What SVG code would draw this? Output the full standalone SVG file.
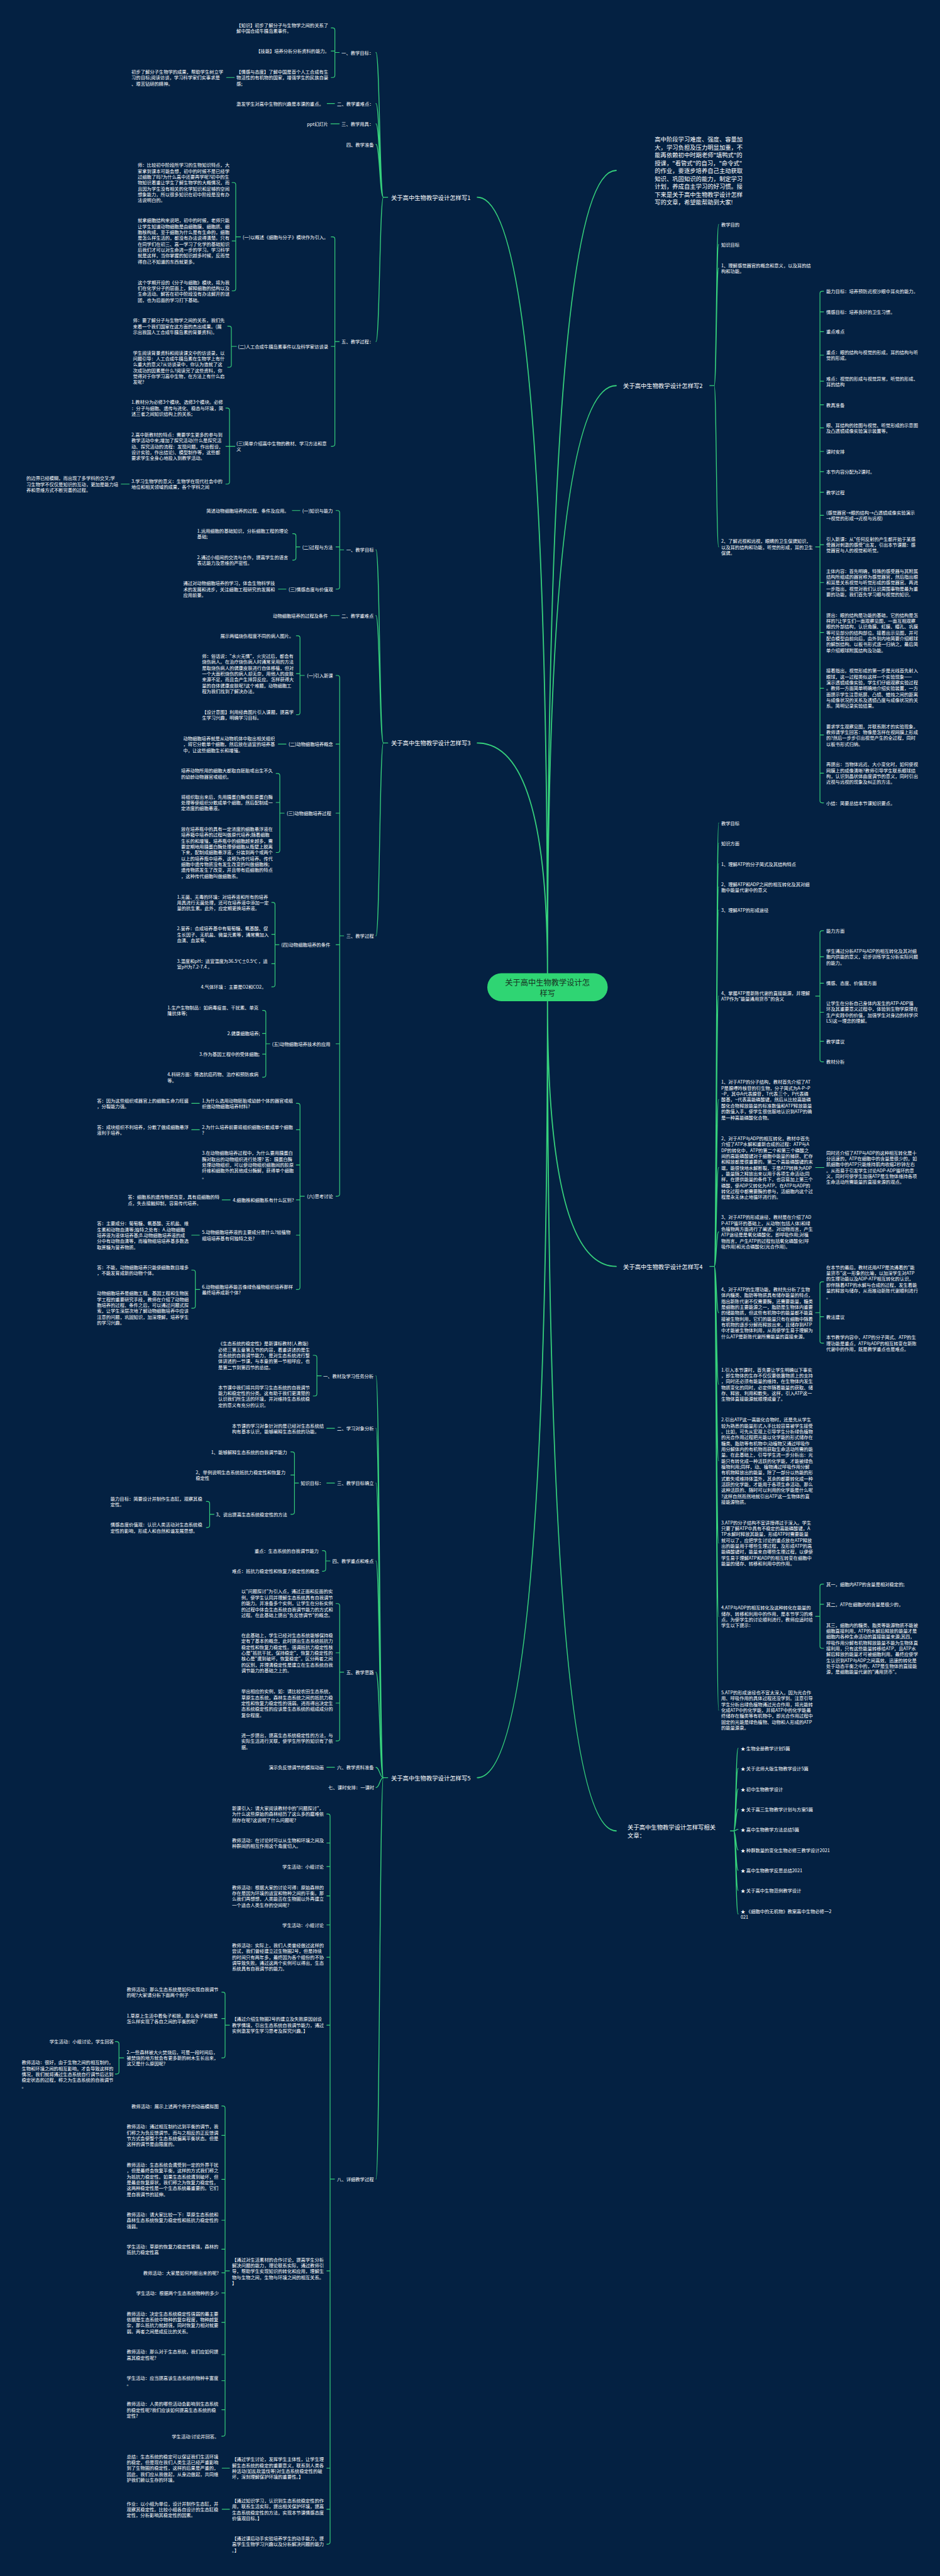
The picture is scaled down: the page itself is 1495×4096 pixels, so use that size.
<svg xmlns="http://www.w3.org/2000/svg" width="1495" height="4096" viewBox="0 0 1495 4096">
<style>
.t{font-family:"Noto Sans CJK SC","Microsoft YaHei",sans-serif;font-size:12.5px;fill:#ffffff;dominant-baseline:central}
.b{font-size:16px}
.c{font-family:"Noto Sans CJK SC","Microsoft YaHei",sans-serif;font-size:21px;fill:#163222;text-anchor:middle;dominant-baseline:central}
.l{fill:none;stroke:#36d17c;stroke-width:2;stroke-linecap:round;stroke-linejoin:round}
.m{stroke-width:2.3}
.top{stroke-width:3.2}
</style>
<rect x="0" y="0" width="1495" height="4096" fill="#042142"/>
<g transform="scale(0.584)">
<g id="connectors">
<path class="l top" d="M1491 2650Q1491 537 1300 537M1491 2650Q1491 2023 1300 2023M1491 2726Q1491 4840 1300 4840M1491 2650Q1491 464 1678 464M1491 2650Q1491 1050 1678 1050M1491 2726Q1491 3448 1678 3448M1491 2726Q1491 4985 1678 4985"/>
<path class="l m" d="M1056 537H1044M1044 537C1034 537 1034 143 1024 143M1044 537C1034 537 1034 282 1024 282M1044 537C1034 537 1034 337 1024 337M1044 537C1034 537 1034 393 1024 393M1044 537C1034 537 1034 930 1024 930"/>
<path class="l m" d="M1056 2023H1044M1044 2023C1034 2023 1034 1497 1024 1497M1044 2023C1034 2023 1034 1676 1024 1676M1044 2023C1034 2023 1034 2548 1024 2548"/>
<path class="l m" d="M1056 4840H1044M1044 4840C1034 4840 1034 3746 1024 3746M1044 4840C1034 4840 1034 3889 1024 3889M1044 4840C1034 4840 1034 4038 1024 4038M1044 4840C1034 4840 1034 4250 1024 4250M1044 4840C1034 4840 1034 4553 1024 4553M1044 4840C1034 4840 1034 4812 1024 4812M1044 4840C1034 4840 1034 4867 1024 4867M1044 4840C1034 4840 1034 5933 1024 5933"/>
<path class="l m" d="M1933 1050H1945M1945 1050C1951 1050 1951 611 1957 611M1945 1050C1951 1050 1951 666 1957 666M1945 1050C1951 1050 1951 730 1957 730M1945 1050C1951 1050 1951 1489 1957 1489"/>
<path class="l m" d="M1933 3448H1945M1945 3448C1951 3448 1951 2241 1957 2241M1945 3448C1951 3448 1951 2296 1957 2296M1945 3448C1951 3448 1951 2352 1957 2352M1945 3448C1951 3448 1951 2415 1957 2415M1945 3448C1951 3448 1951 2478 1957 2478M1945 3448C1951 3448 1951 2712 1957 2712M1945 3448C1951 3448 1951 2994 1957 2994M1945 3448C1951 3448 1951 3179 1957 3179M1945 3448C1951 3448 1951 3354 1957 3354M1945 3448C1951 3448 1951 3574 1957 3574M1945 3448C1951 3448 1951 3769 1957 3769M1945 3448C1951 3448 1951 3977 1957 3977M1945 3448C1951 3448 1951 4201 1957 4201M1945 3448C1951 3448 1951 4401 1957 4401M1945 3448C1951 3448 1951 4656 1957 4656"/>
<path class="l m" d="M1989 4985H1998M1998 4985C2004 4985 2004 4760 2010 4760M1998 4985C2004 4985 2004 4815 2010 4815M1998 4985C2004 4985 2004 4871 2010 4871M1998 4985C2004 4985 2004 4926 2010 4926M1998 4985C2004 4985 2004 4981 2010 4981M1998 4985C2004 4985 2004 5037 2010 5037M1998 4985C2004 4985 2004 5092 2010 5092M1998 4985C2004 4985 2004 5147 2010 5147M1998 4985C2004 4985 2004 5211 2010 5211"/>
<path class="l" d="M924 143H912M902 76H906Q912 76 912 82V205Q912 211 906 211H902M912 139H902"/>
<path class="l" d="M638 211H617M911 282H891M924 337H901M352 1318H330"/>
<path class="l" d="M924 930H912M902 645H906Q912 645 912 651V1209Q912 1215 906 1215H902M912 943H902"/>
<path class="l" d="M655 645H642M632 497H636Q642 497 642 503V786Q642 792 636 792H632M642 656H632"/>
<path class="l" d="M644 943H630M620 888H624Q630 888 630 894V994Q630 1000 624 1000H620"/>
<path class="l" d="M640 1215H625M615 1111H619Q625 1111 625 1117V1312Q625 1318 619 1318H615M625 1215H615"/>
<path class="l" d="M936 1497H925M915 1390H919Q925 1390 925 1396V1598Q925 1604 919 1604H915M925 1489H915"/>
<path class="l" d="M817 1390H796M779 1604H758M924 1676H901M779 2026H758"/>
<path class="l" d="M817 1489H806M797 1453H800Q806 1453 806 1459V1519Q806 1525 800 1525H797"/>
<path class="l" d="M936 2548H925M915 1839H919Q925 1839 925 1845V3251Q925 3257 919 3257H915M925 2026H915M925 2214H915M925 2572H915M925 2842H915"/>
<path class="l" d="M829 1839H817M807 1731H811Q817 1731 817 1737V1940Q817 1946 811 1946H807M817 1834H807"/>
<path class="l" d="M774 2214H762M752 2106H756Q762 2106 762 2112V2315Q762 2321 756 2321H752M762 2185H752"/>
<path class="l" d="M760 2572H749M740 2457H743Q749 2457 749 2463V2681Q749 2687 743 2687H740M749 2544H740M749 2624H740"/>
<path class="l" d="M735 2842H724M715 2751H718Q724 2751 724 2757V2927Q724 2933 718 2933H715M724 2814H715M724 2870H715"/>
<path class="l" d="M829 3257H817M807 3004H811Q817 3004 817 3010V3505Q817 3511 811 3511H807M817 3076H807M817 3172H807M817 3267H807M817 3363H807"/>
<path class="l" d="M543 3004H522M543 3076H522M627 3267H605M543 3363H522"/>
<path class="l" d="M544 3511H532M522 3458H526Q532 3458 532 3464V3556Q532 3562 526 3562H522"/>
<path class="l" d="M875 3746H863M853 3690H857Q863 3690 863 3696V3795Q863 3801 857 3801H853"/>
<path class="l" d="M911 3889H890M911 4038H890M911 4812H890"/>
<path class="l" d="M813 4038H802M792 3953H796Q802 3953 802 3959V4117Q802 4123 796 4123H792M802 4016H792"/>
<path class="l" d="M583 4123H571M562 4088H565Q571 4088 571 4094V4153Q571 4159 565 4159H562"/>
<path class="l" d="M899 4250H887M878 4222H881Q887 4222 887 4228V4272Q887 4278 881 4278H878"/>
<path class="l" d="M936 4553H925M915 4366H919Q925 4366 925 4372V4734Q925 4740 919 4740H915M925 4500H915M925 4637H915"/>
<path class="l" d="M911 5933H899M890 4939H893Q899 4939 899 4945V6921Q899 6927 893 6927H890M899 5018H890M899 5082H890M899 5162H890M899 5241H890M899 5329H890M899 5514H890M899 6183H890M899 6720H890M899 6832H890"/>
<path class="l" d="M625 5514H613M604 5424H607Q613 5424 613 5430V5597Q613 5603 607 5603H604M613 5496H604"/>
<path class="l" d="M337 5603H324M314 5559H318Q324 5559 324 5565V5641Q324 5647 318 5647H314"/>
<path class="l" d="M625 6183H613M604 5734H607Q613 5734 613 5740V6627Q613 6633 607 6633H604M613 5814H604M613 5934H604M613 6045H604M613 6124H604M613 6188H604M613 6243H604M613 6323H604M613 6411H604M613 6482H604M613 6561H604"/>
<path class="l" d="M625 6720H605M625 6832H605"/>
<path class="l" d="M2221 1489H2233M2243 793H2239Q2233 793 2233 799V2180Q2233 2186 2239 2186H2243M2233 849H2243M2233 903H2243M2233 967H2243M2233 1038H2243M2233 1102H2243M2233 1165H2243M2233 1229H2243M2233 1284H2243M2233 1340H2243M2233 1403H2243M2233 1483H2243M2233 1586H2243M2233 1722H2243M2233 1874H2243M2233 2001H2243M2233 2105H2243"/>
<path class="l" d="M2221 2712H2233M2243 2534H2239Q2233 2534 2233 2540V2885Q2233 2891 2239 2891H2243M2233 2605H2243M2233 2677H2243M2233 2756H2243M2233 2835H2243"/>
<path class="l" d="M2221 3179H2244"/>
<path class="l" d="M2221 3574H2233M2243 3490H2239Q2233 3490 2233 3496V3651Q2233 3657 2239 3657H2243M2233 3585H2243"/>
<path class="l" d="M2221 4401H2233M2243 4313H2239Q2233 4313 2233 4319V4482Q2233 4488 2239 4488H2243M2233 4368H2243"/>
</g>
<g id="root"><rect x="1327" y="2650" width="328" height="76" rx="38" fill="#2fd573"/><text class="c" x="1491" y="2675"><tspan>关于高中生物教学设计怎</tspan><tspan x="1491" dy="28">样写</tspan></text></g>
<g id="intro"><text class="t b" x="1783" y="379"><tspan>高中阶段学习难度、强度、容量加</tspan><tspan x="1783" dy="21.4">大，学习负担及压力明显加重，不</tspan><tspan x="1783" dy="21.4">能再依赖初中时期老师"填鸭式"的</tspan><tspan x="1783" dy="21.4">授课，"看管式"的自习，"命令式"</tspan><tspan x="1783" dy="21.4">的作业，要逐步培养自己主动获取</tspan><tspan x="1783" dy="21.4">知识、巩固知识的能力，制定学习</tspan><tspan x="1783" dy="21.4">计划，养成自主学习的好习惯。接</tspan><tspan x="1783" dy="21.4">下来是关于高中生物教学设计怎样</tspan><tspan x="1783" dy="21.4">写的文章，希望能帮助到大家!</tspan></text></g>
<g id="b1"><text class="t b" x="1065" y="537">关于高中生物教学设计怎样写1</text></g>
<g id="b3"><text class="t b" x="1065" y="2023">关于高中生物教学设计怎样写3</text></g>
<g id="b5"><text class="t b" x="1065" y="4840">关于高中生物教学设计怎样写5</text></g>
<g id="b2"><text class="t b" x="1697" y="1050">关于高中生物教学设计怎样写2</text></g>
<g id="b4"><text class="t b" x="1697" y="3448">关于高中生物教学设计怎样写4</text></g>
<g id="b6"><text class="t b" x="1709" y="4975"><tspan>关于高中生物教学设计怎样写相关</tspan><tspan x="1709" dy="21">文章：</tspan></text></g>
<g id="n1"><text class="t" x="930" y="143">一、教学目标：</text></g>
<g id="n2"><text class="t" x="644" y="68"><tspan>【知识】初步了解分子与生物学之间的关系了</tspan><tspan x="644" dy="16">解中国合成牛胰岛素事件。</tspan></text></g>
<g id="n3"><text class="t" x="697" y="139">【技能】培养分析分析资料的能力。</text></g>
<g id="n4"><text class="t" x="644" y="195"><tspan>【情感与态度】了解中国是首个人工合成有生</tspan><tspan x="644" dy="16">物活性的有机物的国家，增强学生的民族自豪</tspan><tspan x="644" dy="16">感;</tspan></text></g>
<g id="n5"><text class="t" x="358" y="195"><tspan>初步了解分子生物学的成果，帮助学生树立学</tspan><tspan x="358" dy="16">习的目标;阅读访谈，学习科学家们实事求是</tspan><tspan x="358" dy="16">、艰苦钻研的精神。</tspan></text></g>
<g id="n6"><text class="t" x="918" y="282">二、教学重难点：</text></g>
<g id="n7"><text class="t" x="644" y="282">激发学生对高中生物的兴趣是本课的重点。</text></g>
<g id="n8"><text class="t" x="930" y="337">三、教学用具：</text></g>
<g id="n9"><text class="t" x="836" y="337">ppt幻灯片</text></g>
<g id="n10"><text class="t" x="943" y="393">四、教学准备</text></g>
<g id="n11"><text class="t" x="930" y="930">五、教学过程：</text></g>
<g id="n12"><text class="t" x="661" y="645">(一)以概述《细胞与分子》模块作为引入。</text></g>
<g id="n13"><text class="t" x="375" y="449"><tspan>师：比较初中阶段所学习的生物知识特点，大</tspan><tspan x="375" dy="16">家拿到课本可能会想，初中的时候不是已经学</tspan><tspan x="375" dy="16">过细胞了吗?为什么高中还要再学呢?初中的生</tspan><tspan x="375" dy="16">物知识着重让学生了解生物学的大概情况，而</tspan><tspan x="375" dy="16">且因为学生没有相关的化学知识和足够的空间</tspan><tspan x="375" dy="16">想象能力，所以很多知识在初中阶段是没有办</tspan><tspan x="375" dy="16">法说明白的。</tspan></text></g>
<g id="n14"><text class="t" x="375" y="600"><tspan>就拿细胞结构来说吧，初中的时候，老师只能</tspan><tspan x="375" dy="16">让学生知道动物细胞是由细胞膜、细胞质、细</tspan><tspan x="375" dy="16">胞核构成，至于细胞为什么是有生命的，细胞</tspan><tspan x="375" dy="16">是怎么样生活的，都没有办法说得清楚。只有</tspan><tspan x="375" dy="16">在同学们在初三、高一学习了化学的基础知识</tspan><tspan x="375" dy="16">后我们才可以对生命进一步的学习。学习科学</tspan><tspan x="375" dy="16">就是这样，当你掌握的知识越多时候，反而觉</tspan><tspan x="375" dy="16">得自己不知道的东西就更多。</tspan></text></g>
<g id="n15"><text class="t" x="375" y="768"><tspan>这个学期开设的《分子与细胞》模块，将为我</tspan><tspan x="375" dy="16">们在化学分子的层面上，解释细胞的结构以及</tspan><tspan x="375" dy="16">生命活动。解答在初中阶段没有办法解开的谜</tspan><tspan x="375" dy="16">团，也为后面的学习打下基础。</tspan></text></g>
<g id="n16"><text class="t" x="648" y="943">(二)人工合成牛胰岛素事件以及科学家访谈录</text></g>
<g id="n17"><text class="t" x="362" y="872"><tspan>师：要了解分子与生物学之间的关系，我们先</tspan><tspan x="362" dy="16">来看一个我们国家在这方面的杰出成果。(展</tspan><tspan x="362" dy="16">示出我国人工合成牛胰岛素的背景资料)。</tspan></text></g>
<g id="n18"><text class="t" x="362" y="960"><tspan>学生阅读背景资料和阅读课文中的访谈录，以</tspan><tspan x="362" dy="16">问题引导：人工合成牛胰岛素在生物学上有什</tspan><tspan x="362" dy="16">么重大的意义?从访谈录中，你认为造就了这</tspan><tspan x="362" dy="16">次成功的因素是什么?阅读完了这些资料，你</tspan><tspan x="362" dy="16">觉得对于你学习高中生物，在方法上有什么启</tspan><tspan x="362" dy="16">发呢?</tspan></text></g>
<g id="n19"><text class="t" x="644" y="1207"><tspan>(三)简单介绍高中生物的教材、学习方法和意</tspan><tspan x="644" dy="16">义</tspan></text></g>
<g id="n20"><text class="t" x="358" y="1095"><tspan>1.教材分为必修3个模块、选修3个模块。必修</tspan><tspan x="358" dy="16">：分子与细胞、遗传与进化、稳态与环境，简</tspan><tspan x="358" dy="16">述三者之间知识结构上的关系;</tspan></text></g>
<g id="n21"><text class="t" x="358" y="1183"><tspan>2.高中新教材的特点：需要学生更多的参与到</tspan><tspan x="358" dy="16">教学活动中来;增加了探究活动(什么是探究活</tspan><tspan x="358" dy="16">动、探究活动的流程：发现问题，作出假设，</tspan><tspan x="358" dy="16">设计实验，作出结论)、模型制作等，这些都</tspan><tspan x="358" dy="16">要求学生全身心地投入到教学活动。</tspan></text></g>
<g id="n22"><text class="t" x="358" y="1310"><tspan>3.学习生物学的意义：生物学在现代社会中的</tspan><tspan x="358" dy="16">地位和相关领域的成果，各个学科之间</tspan></text></g>
<g id="n23"><text class="t" x="72" y="1302"><tspan>的边界已经模糊，而出现了多学科的交叉;学</tspan><tspan x="72" dy="16">习生物学不仅仅是知识的互动，更加是能力培</tspan><tspan x="72" dy="16">养和思维方式不断完善的过程。</tspan></text></g>
<g id="n24"><text class="t" x="943" y="1497">一、教学目标</text></g>
<g id="n25"><text class="t" x="823" y="1390">(一)知识与能力</text></g>
<g id="n26"><text class="t" x="562" y="1390">简述动物细胞培养的过程、条件及应用。</text></g>
<g id="n27"><text class="t" x="823" y="1489">(二)过程与方法</text></g>
<g id="n28"><text class="t" x="537" y="1445"><tspan>1.运用细胞的基础知识，分析细胞工程的理论</tspan><tspan x="537" dy="16">基础;</tspan></text></g>
<g id="n29"><text class="t" x="537" y="1517"><tspan>2.通过小组间的交流与合作，提高学生的语言</tspan><tspan x="537" dy="16">表达能力及思维的严密性。</tspan></text></g>
<g id="n30"><text class="t" x="786" y="1604">(三)情感态度与价值观</text></g>
<g id="n31"><text class="t" x="499" y="1588"><tspan>通过对动物细胞培养的学习，体会生物科学技</tspan><tspan x="499" dy="16">术的发展和进步，关注细胞工程研究的发展和</tspan><tspan x="499" dy="16">应用前景。</tspan></text></g>
<g id="n32"><text class="t" x="930" y="1676">二、教学重难点</text></g>
<g id="n33"><text class="t" x="743" y="1676">动物细胞培养的过程及条件</text></g>
<g id="n34"><text class="t" x="943" y="2548">三、教学过程</text></g>
<g id="n35"><text class="t" x="836" y="1839">(一)引入新课</text></g>
<g id="n36"><text class="t" x="600" y="1731">展示两幅烧伤程度不同的病人图片。</text></g>
<g id="n37"><text class="t" x="550" y="1786"><tspan>师：俗话说："水火无情"，火灾过后，都会有</tspan><tspan x="550" dy="16">烧伤病人。在治疗烧伤病人时通常采用的方法</tspan><tspan x="550" dy="16">是取烧伤病人的健康皮肤进行自体移植，但对</tspan><tspan x="550" dy="16">一个大面积烧伤的病人却无奈，用他人的皮肤</tspan><tspan x="550" dy="16">来源不足，而且会产生排异反应。怎样获得大</tspan><tspan x="550" dy="16">量的自体健康皮肤呢?这个难题，动物细胞工</tspan><tspan x="550" dy="16">程为我们找到了解决办法。</tspan></text></g>
<g id="n38"><text class="t" x="550" y="1938"><tspan>【设计意图】利用经典图片引入课题，提高学</tspan><tspan x="550" dy="16">生学习兴趣，明确学习目标。</tspan></text></g>
<g id="n39"><text class="t" x="786" y="2026">(二)动物细胞培养概念</text></g>
<g id="n40"><text class="t" x="499" y="2010"><tspan>动物细胞培养就是从动物机体中取出相关组织</tspan><tspan x="499" dy="16">，将它分散单个细胞，然后放在适宜的培养基</tspan><tspan x="499" dy="16">中，让这些细胞生长和增殖。</tspan></text></g>
<g id="n41"><text class="t" x="781" y="2214">(三)动物细胞培养过程</text></g>
<g id="n42"><text class="t" x="493" y="2098"><tspan>培养动物所用的细胞大都取自胚胎或出生不久</tspan><tspan x="493" dy="16">的幼龄动物器官或组织。</tspan></text></g>
<g id="n43"><text class="t" x="493" y="2169"><tspan>将组织取出来后，先用胰蛋白酶或胶原蛋白酶</tspan><tspan x="493" dy="16">处理等使组织分散成单个细胞，然后配制成一</tspan><tspan x="493" dy="16">定浓度的细胞悬液。</tspan></text></g>
<g id="n44"><text class="t" x="493" y="2257"><tspan>放在培养瓶中的具有一定浓度的细胞悬浮液在</tspan><tspan x="493" dy="16">培养箱中培养的过程叫做原代培养;随着细胞</tspan><tspan x="493" dy="16">生长的和增殖，培养瓶中的细胞越来越多，需</tspan><tspan x="493" dy="16">要定期地用胰蛋白酶处理使细胞从瓶壁上脱离</tspan><tspan x="493" dy="16">下来，配制成细胞悬浮液，分装到两个或两个</tspan><tspan x="493" dy="16">以上的培养瓶中培养，这称为传代培养。传代</tspan><tspan x="493" dy="16">细胞中遗传物质没有发生改变的叫做细胞株;</tspan><tspan x="493" dy="16">遗传物质发生了改变，并且带有癌细胞的特点</tspan><tspan x="493" dy="16">，这种传代细胞叫做细胞系。</tspan></text></g>
<g id="n45"><text class="t" x="766" y="2572">(四)动物细胞培养的条件</text></g>
<g id="n46"><text class="t" x="482" y="2441"><tspan>1.无菌、无毒的环境：对培养液和所有的培养</tspan><tspan x="482" dy="16">用具进行无菌处理，还可在培养液中添加一定</tspan><tspan x="482" dy="16">量的抗生素。此外，应定期更换培养液。</tspan></text></g>
<g id="n47"><text class="t" x="482" y="2528"><tspan>2.营养：合成培养基中有葡萄糖、氨基酸、促</tspan><tspan x="482" dy="16">生长因子、无机盐、微量元素等，通常需加入</tspan><tspan x="482" dy="16">血清、血浆等。</tspan></text></g>
<g id="n48"><text class="t" x="482" y="2616"><tspan>3.温度和pH：适宜温度为36.5℃±0.5℃ ，适</tspan><tspan x="482" dy="16">宜pH为7.2-7.4 。</tspan></text></g>
<g id="n49"><text class="t" x="547" y="2687">4.气体环境 ：主要是O2和CO2。</text></g>
<g id="n50"><text class="t" x="741" y="2842">(五)动物细胞培养技术的应用</text></g>
<g id="n51"><text class="t" x="456" y="2743"><tspan>1.生产生物制品：如病毒疫苗、干扰素、单克</tspan><tspan x="456" dy="16">隆抗体等;</tspan></text></g>
<g id="n52"><text class="t" x="619" y="2814">2.健康细胞培养;</text></g>
<g id="n53"><text class="t" x="543" y="2870">3.作为基因工程中的受体细胞;</text></g>
<g id="n54"><text class="t" x="456" y="2925"><tspan>4.科研方面：筛选抗癌药物、治疗和预防疾病</tspan><tspan x="456" dy="16">等。</tspan></text></g>
<g id="n55"><text class="t" x="836" y="3257">(六)思考讨论</text></g>
<g id="n56"><text class="t" x="550" y="2996"><tspan>1.为什么选用动物胚胎或幼龄个体的器官或组</tspan><tspan x="550" dy="16">织做动物细胞培养材料?</tspan></text></g>
<g id="n57"><text class="t" x="264" y="2996"><tspan>答：因为这些组织或器官上的细胞生命力旺盛</tspan><tspan x="264" dy="16">，分裂能力强。</tspan></text></g>
<g id="n58"><text class="t" x="550" y="3068"><tspan>2.为什么培养前要将组织细胞分散成单个细胞</tspan><tspan x="550" dy="16">?</tspan></text></g>
<g id="n59"><text class="t" x="264" y="3068"><tspan>答：成块组织不利培养，分散了做成细胞悬浮</tspan><tspan x="264" dy="16">液利于培养。</tspan></text></g>
<g id="n60"><text class="t" x="550" y="3139"><tspan>3.在动物细胞培养过程中，为什么要用胰蛋白</tspan><tspan x="550" dy="16">酶对取出的动物组织进行处理? 答：胰蛋白酶</tspan><tspan x="550" dy="16">处理动物组织，可以使动物组织细胞间的胶原</tspan><tspan x="550" dy="16">纤维和细胞外的其他成分酶解，获得单个细胞</tspan><tspan x="550" dy="16">。</tspan></text></g>
<g id="n61"><text class="t" x="634" y="3267">4.细胞株和细胞系有什么区别?</text></g>
<g id="n62"><text class="t" x="348" y="3259"><tspan>答：细胞系的遗传物质改变，具有癌细胞的特</tspan><tspan x="348" dy="16">点，失去接触抑制，容易传代培养。</tspan></text></g>
<g id="n63"><text class="t" x="550" y="3355"><tspan>5.动物细胞培养液的主要成分是什么?较植物</tspan><tspan x="550" dy="16">组培培养基有何独特之处?</tspan></text></g>
<g id="n64"><text class="t" x="264" y="3331"><tspan>答：主要成分：葡萄糖、氨基酸、无机盐、维</tspan><tspan x="264" dy="16">生素和动物血清等;独特之处有：A.动物细胞</tspan><tspan x="264" dy="16">培养液为液体培养基;B.动物细胞培养液的成</tspan><tspan x="264" dy="16">分中有动物血清等，而植物组培培养基多数选</tspan><tspan x="264" dy="16">取蔗糖为营养物质。</tspan></text></g>
<g id="n65"><text class="t" x="550" y="3503"><tspan>6.动物细胞培养能否像绿色植物组织培养那样</tspan><tspan x="550" dy="16">最终培养成新个体?</tspan></text></g>
<g id="n66"><text class="t" x="264" y="3450"><tspan>答：不能，动物细胞培养只能使细胞数目增多</tspan><tspan x="264" dy="16">，不能发育成新的动物个体。</tspan></text></g>
<g id="n67"><text class="t" x="264" y="3521"><tspan>动物细胞培养是细胞工程、基因工程和生物医</tspan><tspan x="264" dy="16">学工程的重要研究手段，教师在介绍了动物细</tspan><tspan x="264" dy="16">胞培养的过程、条件之后，可以通过问题式探</tspan><tspan x="264" dy="16">索，让学生深层次地了解动物细胞培养中应该</tspan><tspan x="264" dy="16">注意的问题，巩固知识，加深理解，培养学生</tspan><tspan x="264" dy="16">的学习兴趣。</tspan></text></g>
<g id="n68"><text class="t" x="880" y="3746">一、教材及学习任务分析</text></g>
<g id="n69"><text class="t" x="594" y="3658"><tspan>《生态系统的稳定性》是新课标教材(人教版)</tspan><tspan x="594" dy="16">必修三第五章第五节的内容，着重讲述的是生</tspan><tspan x="594" dy="16">态系统的自我调节能力，是对生态系统进行整</tspan><tspan x="594" dy="16">体讲述的一节课，与本章的第一节相呼应，也</tspan><tspan x="594" dy="16">是第二节到第四节的总结。</tspan></text></g>
<g id="n70"><text class="t" x="594" y="3777"><tspan>本节课中我们将共同学习生态系统的自我调节</tspan><tspan x="594" dy="16">能力和稳定性的分类。这有助于我们更清楚的</tspan><tspan x="594" dy="16">认识我们所生活的环境，并对维持生态系统稳</tspan><tspan x="594" dy="16">定的意义有充分的认识。</tspan></text></g>
<g id="n71"><text class="t" x="918" y="3889">二、学习对象分析</text></g>
<g id="n72"><text class="t" x="632" y="3881"><tspan>本节课的学习对象针对的是已经对生态系统结</tspan><tspan x="632" dy="16">构有基本认识，能够阐释生态系统的功能。</tspan></text></g>
<g id="n73"><text class="t" x="918" y="4038">三、教学目标确立</text></g>
<g id="n74"><text class="t" x="819" y="4038">知识目标：</text></g>
<g id="n75"><text class="t" x="575" y="3953">1、能够解释生态系统的自我调节能力</text></g>
<g id="n76"><text class="t" x="533" y="4008"><tspan>2、举例说明生态系统抵抗力稳定性和恢复力</tspan><tspan x="533" dy="16">稳定性</tspan></text></g>
<g id="n77"><text class="t" x="588" y="4123">3、说出提高生态系统稳定性的方法</text></g>
<g id="n78"><text class="t" x="301" y="4080"><tspan>能力目标：简要设计并制作生态缸，观察其稳</tspan><tspan x="301" dy="16">定性。</tspan></text></g>
<g id="n79"><text class="t" x="301" y="4151"><tspan>情感态度价值观：认识人类活动对生态系统稳</tspan><tspan x="301" dy="16">定性的影响，形成人和自然和谐发展思想。</tspan></text></g>
<g id="n80"><text class="t" x="905" y="4250">四、教学重点和难点</text></g>
<g id="n81"><text class="t" x="693" y="4222">重点：生态系统的自我调节能力</text></g>
<g id="n82"><text class="t" x="632" y="4278">难点：抵抗力稳定性和恢复力稳定性的概念</text></g>
<g id="n83"><text class="t" x="943" y="4553">五、教学思路</text></g>
<g id="n84"><text class="t" x="657" y="4333"><tspan>以"问题探讨"为引入点，通过正面和反面的实</tspan><tspan x="657" dy="16">例，使学生认同并理解生态系统具有自我调节</tspan><tspan x="657" dy="16">的能力。并准备多个实例，让学生在分析实例</tspan><tspan x="657" dy="16">的过程中体会生态系统自我调节能力的方式和</tspan><tspan x="657" dy="16">过程。在此基础上提出"负反馈调节"的概念。</tspan></text></g>
<g id="n85"><text class="t" x="657" y="4452"><tspan>在此基础上，学生已经对生态系统能够保持稳</tspan><tspan x="657" dy="16">定有了基本的概念，此时提出生态系统抵抗力</tspan><tspan x="657" dy="16">稳定性和恢复力稳定性。强调抵抗力稳定性核</tspan><tspan x="657" dy="16">心是"抵抗干扰，保持稳定"，恢复力稳定性的</tspan><tspan x="657" dy="16">核心是"遭到破坏，恢复稳定"。区分两者之间</tspan><tspan x="657" dy="16">的区别，并理清稳定性是建立在生态系统自我</tspan><tspan x="657" dy="16">调节能力的基础之上的。</tspan></text></g>
<g id="n86"><text class="t" x="657" y="4605"><tspan>举出相应的实例，如：请比较农田生态系统，</tspan><tspan x="657" dy="16">草原生态系统，森林生态系统之间的抵抗力稳</tspan><tspan x="657" dy="16">定性和恢复力稳定性的强弱。进而得出决定生</tspan><tspan x="657" dy="16">态系统稳定性的应该是生态系统的组成成分的</tspan><tspan x="657" dy="16">复杂程度。</tspan></text></g>
<g id="n87"><text class="t" x="657" y="4724"><tspan>进一步提出，提高生态系统稳定性的方法，与</tspan><tspan x="657" dy="16">实际生活进行关联，使学生所学的知识有了依</tspan><tspan x="657" dy="16">据。</tspan></text></g>
<g id="n88"><text class="t" x="918" y="4812">六、教学资料准备</text></g>
<g id="n89"><text class="t" x="732" y="4812">演示负反馈调节的模拟动画</text></g>
<g id="n90"><text class="t" x="894" y="4867">七、课时安排：一课时</text></g>
<g id="n91"><text class="t" x="918" y="5933">八、详细教学过程</text></g>
<g id="n92"><text class="t" x="632" y="4923"><tspan>新课引入：请大家阅读教材中的"问题探讨"，</tspan><tspan x="632" dy="16">为什么这些原始的森林经历了这么多的磨难依</tspan><tspan x="632" dy="16">然存在呢?这说明了什么问题呢?</tspan></text></g>
<g id="n93"><text class="t" x="632" y="5010"><tspan>教师活动：在讨论时可以从生物和环境之间及</tspan><tspan x="632" dy="16">种群间的相互作用这个角度切入。</tspan></text></g>
<g id="n94"><text class="t" x="769" y="5082">学生活动：小组讨论</text></g>
<g id="n95"><text class="t" x="632" y="5138"><tspan>教师活动：根据大家的讨论可得：原始森林的</tspan><tspan x="632" dy="16">存在是因为环境的适宜和物种之间的平衡。那</tspan><tspan x="632" dy="16">么我们再想想，人类能否在生物圈以外再建立</tspan><tspan x="632" dy="16">一个适合人类生存的空间呢?</tspan></text></g>
<g id="n96"><text class="t" x="769" y="5241">学生活动：小组讨论</text></g>
<g id="n97"><text class="t" x="632" y="5296"><tspan>教师活动：实际上，我们人类曾经做过这样的</tspan><tspan x="632" dy="16">尝试，我们曾经建立过生物圈2号，但是持续</tspan><tspan x="632" dy="16">的时间只有两年多，最终因为各个组份的不协</tspan><tspan x="632" dy="16">调导致失败。通过这两个实例可以得出，生态</tspan><tspan x="632" dy="16">系统具有自我调节的能力。</tspan></text></g>
<g id="n98"><text class="t" x="632" y="5497"><tspan>【通过介绍生物圈2号的建立及失败原因创设</tspan><tspan x="632" dy="16">教学情境，引出生态系统自我调节能力，通过</tspan><tspan x="632" dy="16">实例激发学生学习思考及探究兴趣。】</tspan></text></g>
<g id="n99"><text class="t" x="345" y="5416"><tspan>教师活动：那么生态系统是如何实现自我调节</tspan><tspan x="345" dy="16">的呢?大家请分析下面两个例子</tspan></text></g>
<g id="n100"><text class="t" x="345" y="5488"><tspan>1.草原上生活中着兔子和狼，那么兔子和狼是</tspan><tspan x="345" dy="16">怎么样实现了各自之间的平衡的呢?</tspan></text></g>
<g id="n101"><text class="t" x="345" y="5587"><tspan>2.一些森林被大火焚烧后，可是一段时间后，</tspan><tspan x="345" dy="16">被焚烧的地方就会有更多新的树木生长出来，</tspan><tspan x="345" dy="16">这又是什么原因呢?</tspan></text></g>
<g id="n102"><text class="t" x="135" y="5559">学生活动：小组讨论，学生回答</text></g>
<g id="n103"><text class="t" x="59" y="5615"><tspan>教师活动：很好，由于生物之间的相互制约，</tspan><tspan x="59" dy="16">生物和环境之间的相互影响，才会导致这样的</tspan><tspan x="59" dy="16">情况，我们就将通过生态系统自行调节后达到</tspan><tspan x="59" dy="16">稳定状态的过程，称之为生态系统的自我调节</tspan><tspan x="59" dy="16">。</tspan></text></g>
<g id="n104"><text class="t" x="632" y="6152"><tspan>【通过对生活素材的合作讨论，提高学生分析</tspan><tspan x="632" dy="16">解决问题的能力，理论联系实际，通过教师引</tspan><tspan x="632" dy="16">导，帮助学生实现知识的转化和应用，理解生</tspan><tspan x="632" dy="16">物与生物之间，生物与环境之间的相互关系。</tspan><tspan x="632" dy="16">】</tspan></text></g>
<g id="n105"><text class="t" x="358" y="5734">教师活动：展示上述两个例子的动画模拟图</text></g>
<g id="n106"><text class="t" x="345" y="5790"><tspan>教师活动：通过相互制约达到平衡的调节，我</tspan><tspan x="345" dy="16">们称之为负反馈调节。而与之相反的正反馈调</tspan><tspan x="345" dy="16">节方式会使整个生态系统偏离平衡状态。但是</tspan><tspan x="345" dy="16">这样的调节是由限度的。</tspan></text></g>
<g id="n107"><text class="t" x="345" y="5894"><tspan>教师活动：生态系统会遭受到一定的外界干扰</tspan><tspan x="345" dy="16">，但是最终会恢复平衡，这样的方式我们称之</tspan><tspan x="345" dy="16">为抵抗力稳定性。如果生态系统遭到破坏，但</tspan><tspan x="345" dy="16">是最总恢复原状，我们称之为恢复力稳定性，</tspan><tspan x="345" dy="16">这两种稳定性是一个生态系统最重要的。它们</tspan><tspan x="345" dy="16">是自我调节的延伸。</tspan></text></g>
<g id="n108"><text class="t" x="345" y="6029"><tspan>教师活动：请大家比较一下：草原生态系统和</tspan><tspan x="345" dy="16">森林生态系统恢复力稳定性和抵抗力稳定性的</tspan><tspan x="345" dy="16">强弱。</tspan></text></g>
<g id="n109"><text class="t" x="345" y="6116"><tspan>学生活动：草原的恢复力稳定性更强，森林的</tspan><tspan x="345" dy="16">抵抗力稳定性高</tspan></text></g>
<g id="n110"><text class="t" x="390" y="6188">教师活动：大家是如何判断出来的呢?</text></g>
<g id="n111"><text class="t" x="371" y="6243">学生活动：根据两个生态系统物种的多少</text></g>
<g id="n112"><text class="t" x="345" y="6299"><tspan>教师活动：决定生态系统稳定性强弱的最主要</tspan><tspan x="345" dy="16">依据是生态系统中物种的复杂程度，物种越复</tspan><tspan x="345" dy="16">杂，那么抵抗力就越强，同时恢复力相对就要</tspan><tspan x="345" dy="16">弱。两者之间是成反比的关系。</tspan></text></g>
<g id="n113"><text class="t" x="345" y="6403"><tspan>教师活动：那么对于生态系统，我们应如何提</tspan><tspan x="345" dy="16">高其稳定性呢?</tspan></text></g>
<g id="n114"><text class="t" x="345" y="6474"><tspan>学生活动：应当提高该生态系统的物种丰富度</tspan><tspan x="345" dy="16">。</tspan></text></g>
<g id="n115"><text class="t" x="345" y="6545"><tspan>教师活动：人类的哪些活动会影响到生态系统</tspan><tspan x="345" dy="16">的稳定性呢?我们应该如何提高生态系统的稳</tspan><tspan x="345" dy="16">定性?</tspan></text></g>
<g id="n116"><text class="t" x="468" y="6633">学生活动:讨论并回答。</text></g>
<g id="n117"><text class="t" x="632" y="6696"><tspan>【通过学生讨论，发挥学生主体性，让学生理</tspan><tspan x="632" dy="16">解生态系统的稳定的重要意义，联系到人类各</tspan><tspan x="632" dy="16">种活动(如乱砍滥伐等)对生态系统稳定性的破</tspan><tspan x="632" dy="16">坏，深刻理解保护环境的重要性。】</tspan></text></g>
<g id="n118"><text class="t" x="345" y="6688"><tspan>总结：生态系统的稳定可以保证我们生活环境</tspan><tspan x="345" dy="16">的稳定，但是现在我们人类生活已经严重影响</tspan><tspan x="345" dy="16">到了生物圈的稳定性，这样的后果是严重的，</tspan><tspan x="345" dy="16">因此，我们应从我做起，从身边做起，共同维</tspan><tspan x="345" dy="16">护我们赖以生存的环境。</tspan></text></g>
<g id="n119"><text class="t" x="632" y="6808"><tspan>【通过知识学习，认识到生态系统稳定性的作</tspan><tspan x="632" dy="16">用，联系生活实际，提出相关保护环境，提高</tspan><tspan x="632" dy="16">生态系统稳定性的方法，实现本节课情感态度</tspan><tspan x="632" dy="16">价值观目标。】</tspan></text></g>
<g id="n120"><text class="t" x="345" y="6816"><tspan>作业：以小组为单位，设计并制作生态缸，并</tspan><tspan x="345" dy="16">观察其稳定性。比较小组各自设计的生态缸稳</tspan><tspan x="345" dy="16">定性，分析影响其稳定性的因素。</tspan></text></g>
<g id="n121"><text class="t" x="632" y="6911"><tspan>【通过课后动手实验培养学生的动手能力，提</tspan><tspan x="632" dy="16">高学生生物学习兴趣以及分析解决问题的能力</tspan><tspan x="632" dy="16">。】</tspan></text></g>
<g id="r1"><text class="t" x="1964" y="611">教学目的</text></g>
<g id="r2"><text class="t" x="1964" y="666">知识目标</text></g>
<g id="r3"><text class="t" x="1964" y="722"><tspan>1、理解感觉器官的概念和意义，以及耳的结</tspan><tspan x="1964" dy="16">构和功能。</tspan></text></g>
<g id="r4"><text class="t" x="1964" y="1473"><tspan>2、了解近视和远视，眼睛的卫生保健知识，</tspan><tspan x="1964" dy="16">以及耳的结构和功能，听觉的形成，耳的卫生</tspan><tspan x="1964" dy="16">保健。</tspan></text></g>
<g id="r5"><text class="t" x="2250" y="793">能力目标：培养预防近视沙眼中耳炎的能力。</text></g>
<g id="r6"><text class="t" x="2250" y="849">情感目标：培养良好的卫生习惯。</text></g>
<g id="r7"><text class="t" x="2250" y="903">重点难点</text></g>
<g id="r8"><text class="t" x="2250" y="959"><tspan>重点：眼的结构与视觉的形成，耳的结构与听</tspan><tspan x="2250" dy="16">觉的形成。</tspan></text></g>
<g id="r9"><text class="t" x="2250" y="1030"><tspan>难点：视觉的形成与视觉异常，听觉的形成、</tspan><tspan x="2250" dy="16">耳的结构</tspan></text></g>
<g id="r10"><text class="t" x="2250" y="1102">教具准备</text></g>
<g id="r11"><text class="t" x="2250" y="1157"><tspan>眼、耳结构的挂图与视觉、听觉形成的示意图</tspan><tspan x="2250" dy="16">及凸透镜成像实验演示装置等。</tspan></text></g>
<g id="r12"><text class="t" x="2250" y="1229">课时安排</text></g>
<g id="r13"><text class="t" x="2250" y="1284">本节内容分配为2课时。</text></g>
<g id="r14"><text class="t" x="2250" y="1340">教学过程</text></g>
<g id="r15"><text class="t" x="2250" y="1395"><tspan>(感觉器官→眼的结构→凸透镜成像实验演示</tspan><tspan x="2250" dy="16">→视觉的形成→近视与远视)</tspan></text></g>
<g id="r16"><text class="t" x="2250" y="1467"><tspan>引入新课：从"任何反射的产生都开始于某感</tspan><tspan x="2250" dy="16">受器对刺激的感受"出发，引出本节课题：感</tspan><tspan x="2250" dy="16">觉器官与人的视觉和听觉。</tspan></text></g>
<g id="r17"><text class="t" x="2250" y="1554"><tspan>主体内容：首先明确，特殊的感受器与其附属</tspan><tspan x="2250" dy="16">结构所组成的器官称为感觉器官，然后指出眼</tspan><tspan x="2250" dy="16">和耳是关系视觉与听觉形成的感觉器官。再进</tspan><tspan x="2250" dy="16">一步指出，视觉对我们认识周围事物是最为重</tspan><tspan x="2250" dy="16">要的功能，我们首先学习眼与视觉的知识。</tspan></text></g>
<g id="r18"><text class="t" x="2250" y="1674"><tspan>提出：眼的结构是功能的基础，它的结构是怎</tspan><tspan x="2250" dy="16">样的?让学生们一面观察见图，一面互相观察</tspan><tspan x="2250" dy="16">眼的外部结构，认识角膜、虹膜、瞳孔、巩膜</tspan><tspan x="2250" dy="16">等可见部分的结构部位。接着出示见图，并可</tspan><tspan x="2250" dy="16">配合模型由前向后，由外到内地简要介绍眼球</tspan><tspan x="2250" dy="16">的解剖结构。以板书形式逐一归纳之，最后简</tspan><tspan x="2250" dy="16">单介绍眼球附属结构及功能。</tspan></text></g>
<g id="r19"><text class="t" x="2250" y="1826"><tspan>接着指出，视觉形成的第一步是光线首先射入</tspan><tspan x="2250" dy="16">眼球，这一过程类似这样一个实验现象——</tspan><tspan x="2250" dy="16">演示透镜成像实验，学生们仔细观察实验过程</tspan><tspan x="2250" dy="16">。教师一方面简单明确地介绍实验装置，一方</tspan><tspan x="2250" dy="16">面提示学生注意纸屏、凸镜、蜡烛之间的距离</tspan><tspan x="2250" dy="16">与成像状况的关系及透镜凸度与成像状况的关</tspan><tspan x="2250" dy="16">系。简明记录实验结果。</tspan></text></g>
<g id="r20"><text class="t" x="2250" y="1977"><tspan>要求学生观察见图，并联系刚才的实验现象。</tspan><tspan x="2250" dy="16">教师请学生回答：物像是怎样在视网膜上形成</tspan><tspan x="2250" dy="16">的?然后一步步引出视觉产生的全过程，同时</tspan><tspan x="2250" dy="16">以板书形式归纳。</tspan></text></g>
<g id="r21"><text class="t" x="2250" y="2081"><tspan>再提出：当物体远近、大小变化时，如何使视</tspan><tspan x="2250" dy="16">网膜上的成像清晰?教师引导学生联系眼球结</tspan><tspan x="2250" dy="16">构，认识到晶状体曲度调节的意义，同时引出</tspan><tspan x="2250" dy="16">近视与远视的现象及纠正的方法。</tspan></text></g>
<g id="r22"><text class="t" x="2250" y="2186">小结：简要总结本节课知识要点。</text></g>
<g id="r23"><text class="t" x="1964" y="2241">教学目标</text></g>
<g id="r24"><text class="t" x="1964" y="2296">知识方面</text></g>
<g id="r25"><text class="t" x="1964" y="2352">1、理解ATP的分子简式及其结构特点</text></g>
<g id="r26"><text class="t" x="1964" y="2407"><tspan>2、理解ATP和ADP之间的相互转化及其对细</tspan><tspan x="1964" dy="16">胞中能量代谢中的意义</tspan></text></g>
<g id="r27"><text class="t" x="1964" y="2478">3、理解ATP的形成途径</text></g>
<g id="r28"><text class="t" x="1964" y="2704"><tspan>4、掌握ATP是新陈代谢的直接能源，并理解</tspan><tspan x="1964" dy="16">ATP作为"能量通用货币"的含义</tspan></text></g>
<g id="r29"><text class="t" x="2250" y="2534">能力方面</text></g>
<g id="r30"><text class="t" x="2250" y="2589"><tspan>学生通过分析ATP与ADP的相互转化及其对细</tspan><tspan x="2250" dy="16">胞内供能的意义，初步训练学生分析实际问题</tspan><tspan x="2250" dy="16">的能力。</tspan></text></g>
<g id="r31"><text class="t" x="2250" y="2677">情感、态度、价值观方面</text></g>
<g id="r32"><text class="t" x="2250" y="2731"><tspan>让学生在分析自己身体内发生的ATP-ADP循</tspan><tspan x="2250" dy="16">环及其重要意义过程中，体验到生物学原理在</tspan><tspan x="2250" dy="16">生产实践中的价值，加强学生对身边的科学(R</tspan><tspan x="2250" dy="16">LS)这一理念的理解。</tspan></text></g>
<g id="r33"><text class="t" x="2250" y="2835">教学建议</text></g>
<g id="r34"><text class="t" x="2250" y="2891">教材分析</text></g>
<g id="r35"><text class="t" x="1964" y="2946"><tspan>1、对于ATP的分子结构，教材首先介绍了AT</tspan><tspan x="1964" dy="16">P是腺嘌呤核苷的衍生物，分子简式为A-P~P</tspan><tspan x="1964" dy="16">~P，其中A代表腺苷，T代表三个，P代表磷</tspan><tspan x="1964" dy="16">酸基，~代表高能磷酸键，然后从比较高能磷</tspan><tspan x="1964" dy="16">酸化合物释放能量的标准数值和ATP释放能量</tspan><tspan x="1964" dy="16">的数值入手，使学生很信服地认识到ATP的确</tspan><tspan x="1964" dy="16">是一种高能磷酸化合物。</tspan></text></g>
<g id="r36"><text class="t" x="1964" y="3099"><tspan>2、对于ATP与ADP的相互转化，教材中首先</tspan><tspan x="1964" dy="16">介绍了ATP水解和重新合成的过程：ATP与A</tspan><tspan x="1964" dy="16">DP的转化中，ATP的第二个和第三个磷酸之</tspan><tspan x="1964" dy="16">间的高能磷酸键对于细胞中能量的捕获、贮存</tspan><tspan x="1964" dy="16">和释放都是很重要的。第二个高能磷酸键的末</tspan><tspan x="1964" dy="16">端，能很快地水解断裂，于是ATP转换为ADP</tspan><tspan x="1964" dy="16">，能量随之释放出来以用于各项生命活动;同</tspan><tspan x="1964" dy="16">样，在提供能量的条件下，也容易加上第三个</tspan><tspan x="1964" dy="16">磷酸，使ADP又转化为ATP。在ATP与ADP的</tspan><tspan x="1964" dy="16">转化过程中都需要酶的参与，活细胞内这个过</tspan><tspan x="1964" dy="16">程是永无休止地循环进行的。</tspan></text></g>
<g id="r37"><text class="t" x="2250" y="3138"><tspan>同时还介绍了ATP与ADP的这种相互转化是十</tspan><tspan x="2250" dy="16">分迅速的，ATP在细胞中的含量是很少的，如</tspan><tspan x="2250" dy="16">肌细胞中的ATP只能维持肌肉收缩2秒钟左右</tspan><tspan x="2250" dy="16">。从而易于引发学生讨论ADP-ADP循环的意</tspan><tspan x="2250" dy="16">义，同时可使学生加强ATP是生物体维持各项</tspan><tspan x="2250" dy="16">生命活动所需能量的直接来源的观点。</tspan></text></g>
<g id="r38"><text class="t" x="1964" y="3314"><tspan>3、对于ATP的形成途径，教材是在介绍了AD</tspan><tspan x="1964" dy="16">P-ATP循环的基础上，从动物(包括人体)和绿</tspan><tspan x="1964" dy="16">色植物两方面进行了阐述。对动物而言，产生</tspan><tspan x="1964" dy="16">ATP途径是是氧化磷酸化，即呼吸作用;对植</tspan><tspan x="1964" dy="16">物而言，产生ATP的过程包括氧化磷酸化(呼</tspan><tspan x="1964" dy="16">吸作用)和光合磷酸化(光合作用)。</tspan></text></g>
<g id="r39"><text class="t" x="1964" y="3510"><tspan>4、对于ATP的生理功能，教材先分析了生物</tspan><tspan x="1964" dy="16">体内糖类、脂肪等物质具有储存能量的特点，</tspan><tspan x="1964" dy="16">指出新陈代谢不仅需要酶，还需要能量，糖类</tspan><tspan x="1964" dy="16">是细胞的主要能源之一，脂肪是生物体内重要</tspan><tspan x="1964" dy="16">的储能物质，但这些有机物中的能量都不能直</tspan><tspan x="1964" dy="16">接被生物利用，它们的能量只有在细胞中随着</tspan><tspan x="1964" dy="16">有机物的逐步分解而释放出来，且储存到ATP</tspan><tspan x="1964" dy="16">中才能被生物体利用，从而使学生易于理解为</tspan><tspan x="1964" dy="16">什么ATP是新陈代谢所需能量的直接来源。</tspan></text></g>
<g id="r40"><text class="t" x="2250" y="3450"><tspan>在本节的最后，教材还用ATP是流通着的"能</tspan><tspan x="2250" dy="16">量货币"这一形象的比喻，以加深学生对ATP</tspan><tspan x="2250" dy="16">的生理功能以及ADP-ATP相互转化的认识，</tspan><tspan x="2250" dy="16">即伴随着ATP的水解与合成的过程，发生着能</tspan><tspan x="2250" dy="16">量的释放与储存，从而推动新陈代谢顺利进行</tspan><tspan x="2250" dy="16">。</tspan></text></g>
<g id="r41"><text class="t" x="2250" y="3585">教法建议</text></g>
<g id="r42"><text class="t" x="2250" y="3641"><tspan>本节教学内容中，ATP的分子简式、ATP的生</tspan><tspan x="2250" dy="16">理功能是重点，ATP与ADP的相互转变在新陈</tspan><tspan x="2250" dy="16">代谢中的作用，既是教学重点也是难点。</tspan></text></g>
<g id="r43"><text class="t" x="1964" y="3729"><tspan>1.引入本节课时，首先要让学生明确以下事实</tspan><tspan x="1964" dy="16">，即生物体的生存不仅仅要依靠物质上的支持</tspan><tspan x="1964" dy="16">，同时还必须有能量的维持，在生物体内发生</tspan><tspan x="1964" dy="16">物质变化的同时，必定伴随着能量的获取、储</tspan><tspan x="1964" dy="16">存、释放、利用和散失。这样，引入ATP这一</tspan><tspan x="1964" dy="16">生物体直接能源就顺理成章了。</tspan></text></g>
<g id="r44"><text class="t" x="1964" y="3865"><tspan>2.引出ATP这一高能化合物时，还是先从学生</tspan><tspan x="1964" dy="16">较为熟悉的能量形式入手比较容易被学生接受</tspan><tspan x="1964" dy="16">。比如，可先从宏观上引导学生分析绿色植物</tspan><tspan x="1964" dy="16">的光合作用过程把光能以化学能的形式储存在</tspan><tspan x="1964" dy="16">糖类、脂肪等有机物中;动植物又通过呼吸作</tspan><tspan x="1964" dy="16">用分解体内的有机物而获取生命活动所需的能</tspan><tspan x="1964" dy="16">量。在此基础上，引导学生进一步分析出：光</tspan><tspan x="1964" dy="16">能只有转化成一种活跃的化学能，才能被绿色</tspan><tspan x="1964" dy="16">植物利用;同样，动、植物通过呼吸作用分解</tspan><tspan x="1964" dy="16">有机物释放出的能量，除了一部分以热能的形</tspan><tspan x="1964" dy="16">式散失或维持体温外，其余的都要转化成一种</tspan><tspan x="1964" dy="16">活跃的化学能，才能用于各项生命活动。那么</tspan><tspan x="1964" dy="16">这种活跃的、随时可以利用的化学能是什么呢</tspan><tspan x="1964" dy="16">?这样自然而然地就引出ATP这一生物体的直</tspan><tspan x="1964" dy="16">接能源物质。</tspan></text></g>
<g id="r45"><text class="t" x="1964" y="4145"><tspan>3.ATP的分子结构不宜讲授得过于深入。学生</tspan><tspan x="1964" dy="16">只要了解ATP中具有不稳定的高能磷酸键，A</tspan><tspan x="1964" dy="16">TP水解时释放其能量，形成ATP时需要能量</tspan><tspan x="1964" dy="16">就可以了，应把学生讨论的重点放在ATP释放</tspan><tspan x="1964" dy="16">出的能量用于哪些生理过程，及形成ATP的高</tspan><tspan x="1964" dy="16">能磷酸键时，能量来自哪些生理过程，以便使</tspan><tspan x="1964" dy="16">学生易于理解ATP和ADP的相互转变在细胞中</tspan><tspan x="1964" dy="16">能量的储存、转移和利用中的作用。</tspan></text></g>
<g id="r46"><text class="t" x="1964" y="4377"><tspan>4.ATP与ADP的相互转化及这种转化在能量的</tspan><tspan x="1964" dy="16">储存、转移和利用中的作用，是本节学习的难</tspan><tspan x="1964" dy="16">点。为使学生的讨论顺利进行，教师应适时给</tspan><tspan x="1964" dy="16">学生以下提示：</tspan></text></g>
<g id="r47"><text class="t" x="2250" y="4313">其一，细胞内ATP的含量是相对稳定的;</text></g>
<g id="r48"><text class="t" x="2250" y="4368">其二，ATP在细胞内的含量是极少的，</text></g>
<g id="r49"><text class="t" x="2250" y="4424"><tspan>其三，细胞内的糖类、脂类等能源物质不能被</tspan><tspan x="2250" dy="16">细胞直接利用，ATP的水解后释放的能量才是</tspan><tspan x="2250" dy="16">细胞内各种生命活动的直接能量来源;其四，</tspan><tspan x="2250" dy="16">呼吸作用分解有机物释放能量不能为生物体直</tspan><tspan x="2250" dy="16">接利用，只有这些能量转移给ATP，且ATP水</tspan><tspan x="2250" dy="16">解后释放的能量才可被细胞利用。最终应使学</tspan><tspan x="2250" dy="16">生认识到ATP与ADP之间高效、迅速的转化是</tspan><tspan x="2250" dy="16">处于动态平衡之中的，ATP是生物体的直接能</tspan><tspan x="2250" dy="16">源，是细胞能量代谢的"通用货币"。</tspan></text></g>
<g id="r50"><text class="t" x="1964" y="4608"><tspan>5.ATP的形成途径也不宜太深入，因为光合作</tspan><tspan x="1964" dy="16">用、呼吸作用的具体过程还没学到。注意引导</tspan><tspan x="1964" dy="16">学生分析出绿色植物通过光合作用，将光能转</tspan><tspan x="1964" dy="16">化成ATP中的化学能，并将ATP中的化学能最</tspan><tspan x="1964" dy="16">终储存在糖类等有机物中，即光合作用过程中</tspan><tspan x="1964" dy="16">固定的光能是绿色植物、动物和人形成的ATP</tspan><tspan x="1964" dy="16">的能量源泉。</tspan></text></g>
<g id="s1"><text class="t" x="2017" y="4760">★ 生物全册教学计划5篇</text></g>
<g id="s2"><text class="t" x="2017" y="4815">★ 关于北师大版生物教学设计5篇</text></g>
<g id="s3"><text class="t" x="2017" y="4871">★ 初中生物教学设计</text></g>
<g id="s4"><text class="t" x="2017" y="4926">★ 关于高三生物教学计划与方案5篇</text></g>
<g id="s5"><text class="t" x="2017" y="4981">★ 高中生物教学方法总结5篇</text></g>
<g id="s6"><text class="t" x="2017" y="5037">★ 种群数量的变化生物必修三教学设计2021</text></g>
<g id="s7"><text class="t" x="2017" y="5092">★ 高中生物教学反思总结2021</text></g>
<g id="s8"><text class="t" x="2017" y="5147">★ 关于高中生物范例教学设计</text></g>
<g id="s9"><text class="t" x="2017" y="5203"><tspan>★ 《细胞中的无机物》教案高中生物必修一2</tspan><tspan x="2017" dy="16">021</tspan></text></g>
</g>
</svg>
